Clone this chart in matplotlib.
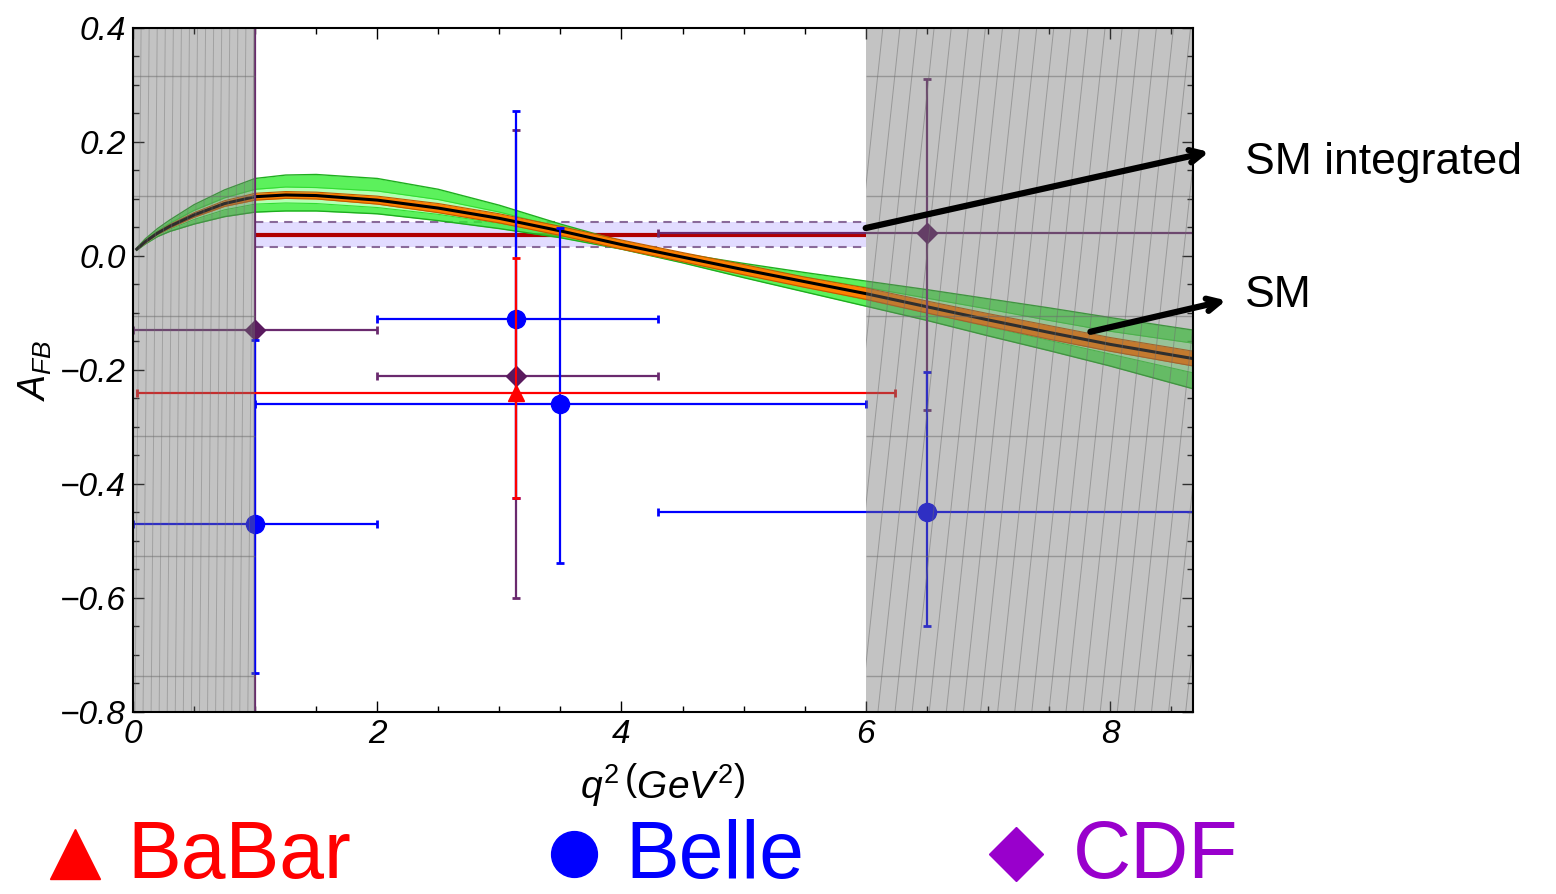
import numpy as np
import matplotlib
matplotlib.use('Agg')
import matplotlib.pyplot as plt
from matplotlib.lines import Line2D
from matplotlib.patches import Rectangle

plt.rcParams['font.family'] = ['Liberation Sans', 'DejaVu Sans']
plt.rcParams['mathtext.fontset'] = 'custom'
plt.rcParams['mathtext.it'] = 'Liberation Sans:italic'
plt.rcParams['mathtext.rm'] = 'Liberation Sans'

# SM prediction: central curve and error bands
q2 = [0.03, 0.1, 0.2, 0.3, 0.5, 0.75, 1.0, 1.25, 1.5, 2.0, 2.5, 3.0, 3.5,
      4.0, 4.5, 5.0, 5.5, 6.0, 6.5, 7.0, 7.5, 8.0, 8.68]
sm_central = [0.012, 0.025, 0.040, 0.052, 0.072, 0.092, 0.104, 0.107, 0.106, 0.098,
              0.084, 0.066, 0.044, 0.020, -0.002, -0.024, -0.045, -0.066, -0.089,
              -0.112, -0.134, -0.155, -0.180]
outer_hi = [0.014, 0.030, 0.048, 0.063, 0.090, 0.116, 0.136, 0.142, 0.143, 0.136,
            0.117, 0.089, 0.056, 0.026, 0.004, -0.013, -0.029, -0.044, -0.059,
            -0.075, -0.091, -0.108, -0.130]
outer_lo = [0.010, 0.021, 0.034, 0.043, 0.056, 0.069, 0.077, 0.079, 0.079, 0.074,
            0.062, 0.048, 0.032, 0.012, -0.012, -0.038, -0.063, -0.088, -0.113,
            -0.140, -0.166, -0.193, -0.233]
inner_hi = [0.013, 0.028, 0.044, 0.057, 0.080, 0.102, 0.117, 0.121, 0.120, 0.114,
            0.099, 0.077, 0.050, 0.023, 0.000, -0.019, -0.037, -0.055, -0.074,
            -0.093, -0.113, -0.132, -0.153]
inner_lo = [0.011, 0.023, 0.037, 0.047, 0.064, 0.081, 0.091, 0.093, 0.092, 0.085,
            0.073, 0.057, 0.038, 0.016, -0.006, -0.030, -0.054, -0.077, -0.100,
            -0.124, -0.148, -0.172, -0.205]
orange_hi = [0.013, 0.027, 0.042, 0.055, 0.076, 0.097, 0.110, 0.113, 0.112, 0.105,
             0.092, 0.074, 0.052, 0.028, 0.006, -0.015, -0.037, -0.056, -0.079,
             -0.101, -0.122, -0.143, -0.167]
orange_lo = [0.011, 0.023, 0.038, 0.049, 0.068, 0.087, 0.098, 0.101, 0.100, 0.091,
             0.076, 0.058, 0.036, 0.012, -0.010, -0.033, -0.055, -0.076, -0.100,
             -0.123, -0.146, -0.167, -0.193]

# SM integrated over 1 < q2 < 6
sm_int_bin = [1.0, 6.0]
sm_int_val = 0.036
sm_int_lo = 0.015
sm_int_hi = 0.060

# measurements: centre, bin edges, error range
babar_x = [3.14]
babar_y = [-0.24]
babar_xlo = [0.03]
babar_xhi = [6.24]
babar_ylo = [-0.425]
babar_yhi = [-0.004]

belle_x = [1.0, 3.14, 3.5, 6.5]
belle_y = [-0.47, -0.11, -0.26, -0.45]
belle_xlo = [0.0, 2.0, 1.0, 4.3]
belle_xhi = [2.0, 4.3, 6.0, 8.68]
belle_ylo = [-0.732, -0.425, -0.539, -0.649]
belle_yhi = [-0.147, 0.254, 0.049, -0.204]

cdf_x = [1.0, 3.14, 6.5]
cdf_y = [-0.13, -0.21, 0.04]
cdf_xlo = [0.0, 2.0, 4.3]
cdf_xhi = [2.0, 4.3, 8.68]
cdf_ylo = [-0.9, -0.60, -0.27]
cdf_yhi = [0.5, 0.221, 0.31]

vetoed = [(0.0, 1.0), (6.0, 8.68)]
veto_rows = [0.316, 0.105, -0.105, -0.316, -0.527, -0.737]

fig = plt.figure(figsize=(15.56, 8.94), dpi=100)
ax = fig.add_axes([0.0855, 0.2036, 0.6812, 0.7651])

# bands
ax.fill_between(q2, outer_lo, outer_hi, color='#33ee33', alpha=0.8, lw=0, zorder=2)
ax.plot(q2, outer_hi, color='#1fae1f', lw=1, zorder=2)
ax.plot(q2, outer_lo, color='#1fae1f', lw=1, zorder=2)
ax.fill_between(q2, inner_lo, inner_hi, color='#b4ffb4', lw=0, zorder=2.1)
ax.plot(q2, inner_hi, color='#33dd33', lw=0.8, zorder=2.1)
ax.plot(q2, inner_lo, color='#33dd33', lw=0.8, zorder=2.1)
ax.fill_between(q2, orange_lo, orange_hi, color='#ff8000', lw=0, zorder=2.2)
ax.plot(q2, orange_hi, color='#c05a00', lw=0.8, zorder=2.2)
ax.plot(q2, orange_lo, color='#c05a00', lw=0.8, zorder=2.2)
ax.plot(q2, sm_central, color='black', lw=2.2, zorder=2.3)

# integrated SM
ax.fill_between(sm_int_bin, sm_int_lo, sm_int_hi, color='#e2dcff', lw=0, zorder=1)
ax.hlines([sm_int_lo, sm_int_hi], sm_int_bin[0], sm_int_bin[1], colors='#8a6a9a',
          linestyles=(0, (4, 3)), lw=1.5, zorder=1.1)
ax.hlines(sm_int_val, sm_int_bin[0], sm_int_bin[1], colors='#b00000', lw=3, zorder=1.5)


def draw_points(xs, ys, xlo, xhi, ylo, yhi, color, mcolor, marker, ms, z):
    xs = np.array(xs)
    ys = np.array(ys)
    xerr = [xs - np.array(xlo), np.array(xhi) - xs]
    yerr = [ys - np.array(ylo), np.array(yhi) - ys]
    ax.errorbar(xs, ys, xerr=xerr, yerr=yerr, fmt='none', ecolor=color,
                elinewidth=1.6, capsize=3, capthick=2, zorder=z)
    ax.plot(xs, ys, ls='none', marker=marker, ms=ms, color=mcolor, zorder=z + 0.5)


draw_points(cdf_x, cdf_y, cdf_xlo, cdf_xhi, cdf_ylo, cdf_yhi,
            '#6a2a6e', '#5a1a5e', 'D', 10, 4)
draw_points(belle_x, belle_y, belle_xlo, belle_xhi, belle_ylo, belle_yhi,
            '#0000ff', '#0000ff', 'o', 13, 5)
draw_points(babar_x, babar_y, babar_xlo, babar_xhi, babar_ylo, babar_yhi,
            '#ff0000', '#ff0000', '^', 11, 6)

# shaded (vetoed) regions with hatching on top
for x0, x1 in vetoed:
    ax.axvspan(x0, x1, color='#727272', alpha=0.42, lw=0, zorder=8)
    ax.hlines(veto_rows, x0, x1, colors='#6a6a6a', lw=1, alpha=0.5, zorder=8.1)
    clip = Rectangle((x0, -0.8), x1 - x0, 1.2, transform=ax.transData)
    if x0 == 0.0:
        step, slant, al = 0.066, 0.05, 0.4
    else:
        step, slant, al = 0.14, 0.6, 0.5
    for xs in np.arange(x0 - slant, x1 + step, step):
        ln, = ax.plot([xs, xs + slant], [-0.8, 0.4], color='#6e6e6e', lw=0.7,
                      alpha=al, zorder=8.2)
        ln.set_clip_path(clip)

ax.set_xlim(0, 8.68)
ax.set_ylim(-0.8, 0.4)
ax.set_xticks([0, 2, 4, 6, 8])
ax.set_xticks(np.arange(0, 8.7, 0.5), minor=True)
ax.set_yticks([-0.8, -0.6, -0.4, -0.2, 0.0, 0.2, 0.4])
ax.set_yticklabels(['\u22120.8', '\u22120.6', '\u22120.4', '\u22120.2', '0.0', '0.2', '0.4'])
ax.set_yticks(np.arange(-0.8, 0.41, 0.05), minor=True)
ax.tick_params(which='both', direction='in', top=True, right=True, width=1,
               labelsize=24, pad=5)
ax.tick_params(which='major', length=8)
ax.tick_params(which='minor', length=4)
for lab in ax.get_xticklabels() + ax.get_yticklabels():
    lab.set_fontstyle('italic')
for sp in ax.spines.values():
    sp.set_linewidth(1.5)
    sp.set_zorder(10)

fig.text(0.0225, 0.586, r'$A_{FB}$', rotation=90, ha='center', va='center', fontsize=27)
fig.text(0.426, 0.122, r'$q^2\,\left(GeV^2\right)$', ha='center', va='center', fontsize=28)

# annotations
arrow = dict(arrowstyle='->,head_length=0.9,head_width=0.45', lw=4.5, color='black',
             shrinkA=0, shrinkB=0)
ax.annotate('', xy=(0.777, 0.830), xycoords='figure fraction',
            xytext=(6.0, 0.049), textcoords='data', arrowprops=arrow,
            annotation_clip=False, zorder=12)
ax.annotate('', xy=(0.788, 0.664), xycoords='figure fraction',
            xytext=(7.84, -0.133), textcoords='data', arrowprops=arrow,
            annotation_clip=False, zorder=12)
fig.text(0.800, 0.818, 'SM integrated', fontsize=32, va='center', ha='left')
fig.text(0.800, 0.670, 'SM', fontsize=32, va='center', ha='left')

# legend row
legend = [('BaBar', '^', '#ff0000', 0.048, 0.0816, 36),
          ('Belle', 'o', '#0000ff', 0.369, 0.4017, 33),
          ('CDF', 'D', '#9900cc', 0.653, 0.6896, 28)]
for name, mk, col, mx, tx, ms in legend:
    fig.add_artist(Line2D([mx], [0.045], marker=mk, ms=ms, color=col, ls='none',
                          transform=fig.transFigure))
    fig.text(tx, 0.0175, name, color=col, fontsize=58, va='baseline', ha='left')

fig.savefig('out.png', dpi=100)
